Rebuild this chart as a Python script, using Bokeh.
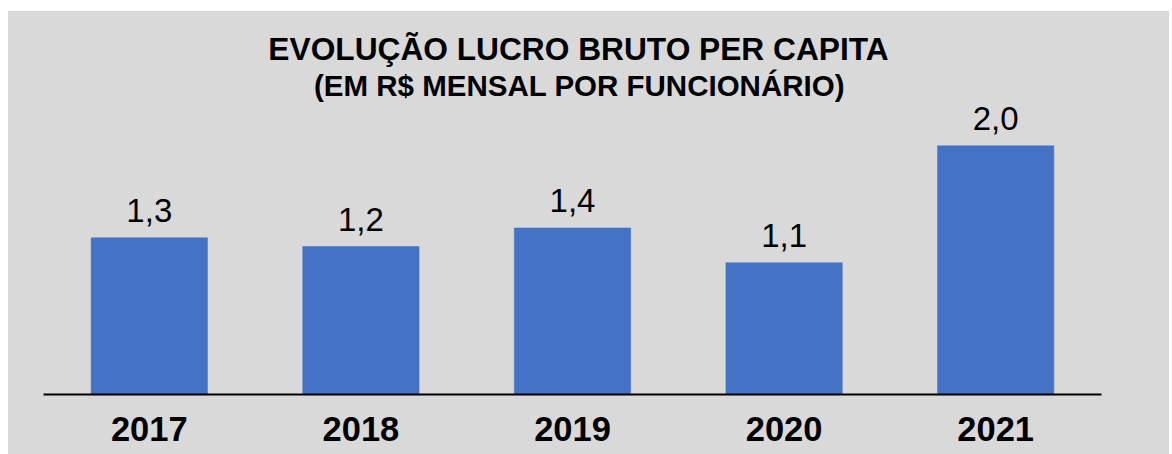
from bokeh.plotting import figure
from bokeh.models import ColumnDataSource, FactorRange, Range1d, Spacer
from bokeh.layouts import column, row
from bokeh.embed import file_html
from bokeh.resources import INLINE
from bokeh.core.properties import value

years = ["2017", "2018", "2019", "2020", "2021"]
values = [1.26, 1.19, 1.34, 1.06, 2.0]
labels = ["1,3", "1,2", "1,4", "1,1", "2,0"]
title_line1 = "EVOLUÇÃO LUCRO BRUTO PER CAPITA"
title_line2 = "(EM R$ MENSAL POR FUNCIONÁRIO)"

BG = "#d9d9d9"
BAR = "#4472c4"
FONT = "Liberation Sans"

src = ColumnDataSource(dict(years=years, values=values, labels=labels))

p = figure(
    width=1161, height=443,
    x_range=FactorRange(factors=years),
    y_range=Range1d(0, 3.0),
    output_backend="svg", toolbar_location=None,
    y_axis_location=None,
    min_border_left=35, min_border_right=68,
    min_border_top=10, min_border_bottom=60,
    styles={"background-color": BG},
)
p.background_fill_color = None
p.border_fill_color = None
p.outline_line_color = None
p.xgrid.visible = False
p.ygrid.visible = False

p.vbar(x="years", top="values", width=0.55, source=src,
       fill_color=BAR, line_color=BAR, line_width=0.5)

p.text(x="years", y="values", text="labels", source=src,
       text_align="center", text_baseline="middle", y_offset=-27,
       text_font=value(FONT), text_font_size="33px", text_color="black")

ax = p.xaxis[0]
ax.axis_line_color = "black"
ax.axis_line_width = 2
ax.major_tick_line_color = None
ax.minor_tick_line_color = None
ax.major_label_text_font = FONT
ax.major_label_text_font_style = "bold"
ax.major_label_text_font_size = "34.5px"
ax.major_label_text_color = "black"
ax.major_label_standoff = 16

# centred two-line title drawn in the frame above the bars
p.text(x=[years[2]], y=[2.775], text=[title_line1], x_offset=6,
       text_align="center", text_baseline="middle",
       text_font=value(FONT), text_font_style="bold",
       text_font_size="31.7px", text_color="black")
p.text(x=[years[2]], y=[2.485], text=[title_line2], x_offset=7,
       text_align="center", text_baseline="middle",
       text_font=value(FONT), text_font_style="bold",
       text_font_size="29.5px", text_color="black")

white = {"background-color": "white"}
layout = column(Spacer(height=11, width=1169, styles=white),
                row(Spacer(width=8, height=443, styles=white), p, spacing=0),
                spacing=0)
open("out.html", "w").write(file_html(layout, INLINE))
